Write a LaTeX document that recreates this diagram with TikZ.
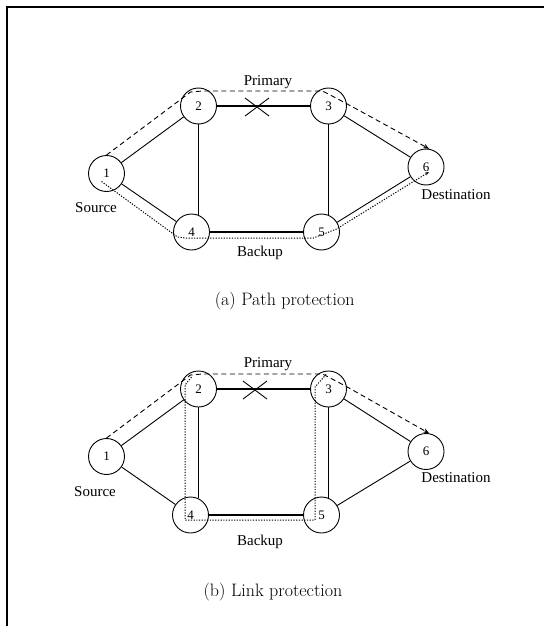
\documentclass[tikz,border=0pt]{standalone}
\usepackage{fontspec}
\newfontfamily\tms{Liberation Serif}
\usetikzlibrary{calc,arrows.meta}
\begin{document}
\begin{tikzpicture}[x=1pt,y=-1pt,
  vtx/.style={circle,draw,line width=0.9pt,minimum size=36pt,inner sep=0pt,font=\tms\fontsize{13}{13}\selectfont},
  edge/.style={line width=0.9pt},
  thk/.style={line width=1.15pt},
  prim/.style={dash pattern=on 5pt off 3.5pt,line width=0.9pt},
  bkp/.style={dash pattern=on 1.2pt off 1.5pt,line width=1pt},
  lbl/.style={font=\tms\fontsize{15}{15}\selectfont},
  captxt/.style={font=\fontsize{18}{18}\selectfont},
  tip/.style={-{Stealth[length=6pt,width=4.5pt]}},
  smalltip/.style={-{Stealth[length=4pt,width=3pt]}}]
\useasboundingbox (0,0) rectangle (544,626);
\draw[line width=2.4pt] (544,7) -- (7,7) -- (7,626);

% ---------- (a) Path protection ----------
\node[vtx] (a1) at (106.5,173.5) {1};
\node[vtx] (a2) at (198.5,106) {2};
\node[vtx] (a3) at (328.5,106) {3};
\node[vtx] (a4) at (191.5,232) {4};
\node[vtx] (a5) at (321.5,232) {5};
\node[vtx] (a6) at (426,167) {6};

\draw[edge] (a1) -- (a2);
\draw[edge] (a1) -- (a4);
\draw[thk] (a2.east) -- (a3.west);
\draw[edge] (a2) -- ($(a2 |- a4.north)+(0,1.8)$);
\draw[edge] (a3) -- ($(a3 |- a5.north)+(0,1.8)$);
\draw[thk] (a4.east) -- (a5.west);
\draw[edge] (a3) -- (a6);
\draw[edge] (a5) -- (a6);

\draw[prim,tip] (a1.north) -- ($(a2)+(-8,-14)$) -- ($(a2)+(4,-15)$) -- ($(a3)+(-6,-15)$) -- ($(a3)+(17,-3)$) -- (a6.80);
\draw[bkp,smalltip] ($(a1)+(-5,8)$) -- ($(a4)+(-14,5)$) -- ($(a4)+(-6,6)$) -- ($(a5)+(-8,6)$) -- ($(a5)+(15,-3)$) -- ($(a6)+(3,5)$);

\node[lbl] (pa) at (268,82) {Primary};
\node[lbl] (ba) at (260,253) {Backup};
\node[lbl] (sa) at (96,208) {Source};
\node[lbl] (da) at (456,195) {Destination};
\coordinate (xa) at (257,107);
\draw[line width=0.9pt] ($(xa)+(-12,-9)$) -- ($(xa)+(12,9)$) ($(xa)+(12,-9)$) -- ($(xa)+(-12,9)$);
\node[captxt] (capa) at (284.7,301.5) {(a) Path protection};

% ---------- (b) Link protection ----------
\node[vtx] (b1) at (106.5,456.5) {1};
\node[vtx] (b2) at (198.5,389) {2};
\node[vtx] (b3) at (328.5,389) {3};
\node[vtx] (b4) at (190.5,515) {4};
\node[vtx] (b5) at (321.5,515) {5};
\node[vtx] (b6) at (426,451.5) {6};

\draw[edge] (b1) -- (b2);
\draw[edge] (b1) -- (b4);
\draw[thk] (b2.east) -- (b3.west);
\draw[thk] (b2) -- ($(b2 |- b4.north)+(0,1.8)$);
\draw[thk] (b3) -- ($(b3 |- b5.north)+(0,1.8)$);
\draw[thk] (b4.east) -- (b5.west);
\draw[edge] (b3) -- (b6);
\draw[edge] (b5) -- (b6);

\draw[prim,tip] (b1.north) -- ($(b2)+(-8,-14)$) -- ($(b2)+(4,-15)$) -- ($(b3)+(-6,-15)$) -- ($(b3)+(17,-3)$) -- (b6.80);
\draw[bkp] ($(b2)+(-7,-12)$) -- ($(b2)+(-13.5,-4)$) -- ($(b2)+(-13.5,131)$) -- ($(b5)+(-6.5,5)$) -- ($(b5)+(-6.5,-128)$) -- ($(b3)+(-2,-15)$);

\node[lbl] (pb) at (268,364) {Primary};
\node[lbl] (bb) at (260,542) {Backup};
\node[lbl] (sb) at (95,491.5) {Source};
\node[lbl] (db) at (456,478) {Destination};
\coordinate (xb) at (255,390);
\draw[line width=0.9pt] ($(xb)+(-12,-9)$) -- ($(xb)+(12,9)$) ($(xb)+(12,-9)$) -- ($(xb)+(-12,9)$);
\node[captxt] (capb) at (273,592) {(b) Link protection};
\end{tikzpicture}
\end{document}
